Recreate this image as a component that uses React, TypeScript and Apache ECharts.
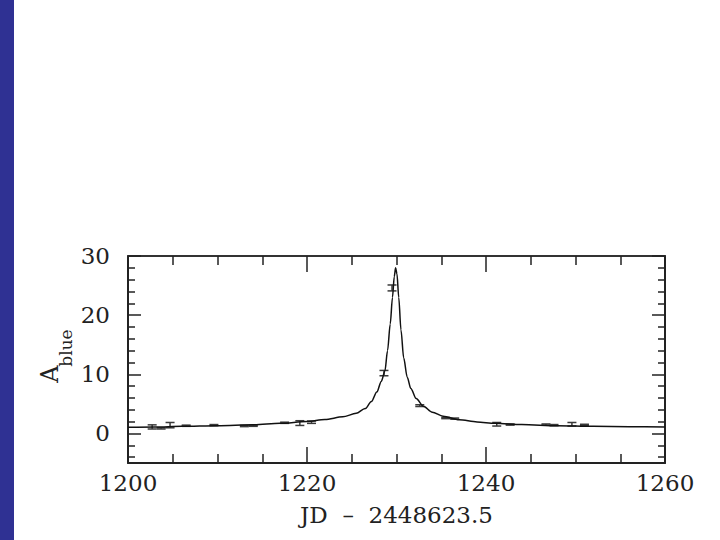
import React, { useEffect, useRef } from "react";
import * as echarts from "echarts";

// Tick values
const X_MAJOR = [1200, 1220, 1240, 1260];
const X_MINOR = [1205, 1210, 1215, 1225, 1230, 1235, 1245, 1250, 1255];
const Y_MAJOR = [0, 10, 20, 30];
const Y_MINOR = [-4, -2, 2, 4, 6, 8, 12, 14, 16, 18, 22, 24, 26, 28];

// Fitted light curve
const CURVE_X = [1200, 1203, 1206, 1210, 1214, 1217, 1220, 1222, 1224, 1225.5, 1226.5, 1227.2, 1227.8, 1228.3, 1228.7, 1229.0, 1229.3, 1229.55, 1229.75, 1229.9, 1230.05, 1230.25, 1230.5, 1230.8, 1231.2, 1231.6, 1232.2, 1233, 1234, 1235.2, 1237, 1239, 1241, 1244, 1248, 1252, 1256, 1260];
const CURVE_Y = [1.05, 1.1, 1.2, 1.3, 1.45, 1.7, 2.0, 2.35, 2.8, 3.4, 4.2, 5.4, 7.0, 8.8, 10.5, 14.0, 18.5, 23.0, 26.5, 28.0, 27.0, 23.0, 17.5, 12.8, 9.5, 7.6, 5.9, 4.6, 3.6, 2.9, 2.3, 1.95, 1.7, 1.5, 1.3, 1.2, 1.15, 1.1];

// Observations with errors
const OBS_X = [1202.7, 1203.7, 1204.7, 1206.5, 1209.6, 1213.0, 1214.0, 1217.5, 1219.2, 1220.5, 1228.6, 1229.5, 1232.6, 1235.5, 1236.5, 1241.2, 1242.7, 1246.7, 1247.6, 1249.6, 1251.0];
const OBS_Y = [1.1, 0.85, 1.4, 1.3, 1.4, 1.25, 1.3, 1.8, 1.75, 1.9, 10.2, 24.6, 4.7, 2.6, 2.5, 1.55, 1.5, 1.5, 1.4, 1.55, 1.45];
const OBS_E = [0.35, 0.1, 0.45, 0.1, 0.1, 0.1, 0.1, 0.1, 0.4, 0.2, 0.45, 0.5, 0.15, 0.1, 0.1, 0.3, 0.1, 0.1, 0.1, 0.3, 0.1];

const FONT = "DejaVu Serif";

export default function App() {
  const ref = useRef<HTMLDivElement>(null);
  useEffect(() => {
    if (!ref.current) return;
    const chart = echarts.init(ref.current, null, { renderer: "svg" });
    const axisColor = "#222";
    const baseY = { type: "value", min: -5, max: 30, splitLine: { show: false } };
    const baseX = { type: "value", min: 1200, max: 1260, splitLine: { show: false } };
    const hidden = { show: false };
    const line = (color: string) => ({ show: true, onZero: false, lineStyle: { color, width: 2 } });
    const tick = (vals: number[], len: number) => ({
      show: true,
      inside: true,
      length: len,
      customValues: vals,
      lineStyle: { color: axisColor, width: 1.5 },
    });
    const fmt = (v: number) => String(v);
    chart.setOption({
      animation: false,
      backgroundColor: "#fff",
      grid: { left: 128, right: 55, top: 256, bottom: 77 },
      graphic: [
        { type: "rect", left: 0, top: 0, shape: { width: 14, height: 540 }, style: { fill: "#2f3193" } },
        {
          type: "text",
          x: 50,
          y: 374,
          rotation: Math.PI / 2,
          style: { text: "A", font: `24px '${FONT}'`, fill: "#222", align: "center", verticalAlign: "middle" },
        },
        {
          type: "text",
          x: 66,
          y: 348,
          rotation: Math.PI / 2,
          style: { text: "blue", font: `17px '${FONT}'`, fill: "#222", align: "center", verticalAlign: "middle" },
        },
      ],
      xAxis: [
        {
          ...baseX,
          position: "bottom",
          axisLine: line(axisColor),
          axisTick: tick(X_MAJOR, 16),
          axisLabel: { customValues: X_MAJOR, formatter: fmt, margin: 8, fontFamily: FONT, fontSize: 23, color: "#222" },
          name: "JD\u00a0\u00a0\u2013\u00a0\u00a02448623.5",
          nameLocation: "middle",
          nameGap: 40,
          nameTextStyle: { fontFamily: FONT, fontSize: 23, color: "#222" },
        },
        { ...baseX, position: "bottom", axisLine: { show: false, onZero: false }, axisTick: tick(X_MINOR, 9), axisLabel: hidden },
        { ...baseX, position: "top", axisLine: line("#333"), axisTick: tick(X_MAJOR, 16), axisLabel: hidden },
        { ...baseX, position: "top", axisLine: { show: false, onZero: false }, axisTick: tick(X_MINOR, 9), axisLabel: hidden },
      ],
      yAxis: [
        {
          ...baseY,
          position: "left",
          axisLine: line(axisColor),
          axisTick: tick(Y_MAJOR, 13),
          axisLabel: { customValues: Y_MAJOR, formatter: fmt, margin: 18, fontFamily: FONT, fontSize: 23, color: "#222" },
        },
        { ...baseY, position: "left", axisLine: { show: false, onZero: false }, axisTick: tick(Y_MINOR, 7), axisLabel: hidden },
        { ...baseY, position: "right", axisLine: line(axisColor), axisTick: tick(Y_MAJOR, 13), axisLabel: hidden },
        { ...baseY, position: "right", axisLine: { show: false, onZero: false }, axisTick: tick(Y_MINOR, 7), axisLabel: hidden },
      ],
      series: [
        {
          type: "line",
          xAxisIndex: 0,
          yAxisIndex: 0,
          data: CURVE_X.map((x, i) => [x, CURVE_Y[i]]),
          showSymbol: false,
          smooth: 0.3,
          smoothMonotone: "x",
          lineStyle: { color: "#111", width: 1.5 },
          z: 3,
        },
        {
          type: "custom",
          xAxisIndex: 0,
          yAxisIndex: 0,
          data: OBS_X.map((x, i) => [x, OBS_Y[i], OBS_E[i]]),
          z: 2,
          renderItem: (params: any, api: any) => {
            const x = api.value(0);
            const y = api.value(1);
            const e = api.value(2);
            const top = api.coord([x, y + e]);
            const bot = api.coord([x, y - e]);
            const st = { stroke: "#3a3a3a", lineWidth: 1.5 };
            const hw = 4.5;
            return {
              type: "group",
              children: [
                { type: "line", shape: { x1: top[0], y1: top[1], x2: bot[0], y2: bot[1] }, style: st },
                { type: "line", shape: { x1: top[0] - hw, y1: top[1], x2: top[0] + hw, y2: top[1] }, style: st },
                { type: "line", shape: { x1: bot[0] - hw, y1: bot[1], x2: bot[0] + hw, y2: bot[1] }, style: st },
              ],
            };
          },
        },
      ],
    });
    return () => chart.dispose();
  }, []);
  return <div ref={ref} style={{ position: "absolute", left: 0, top: 0, width: 720, height: 540 }} />;
}
